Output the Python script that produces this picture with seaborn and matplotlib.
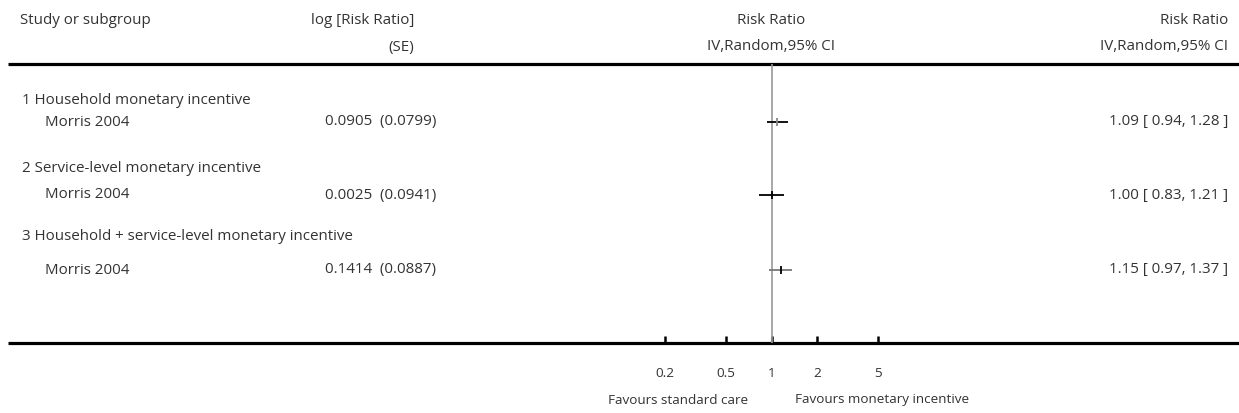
import numpy as np
import pandas as pd
import matplotlib
matplotlib.use("Agg")
import matplotlib.pyplot as plt
import seaborn as sns

# data
subgroups = ["1 Household monetary incentive",
             "2 Service-level monetary incentive",
             "3 Household + service-level monetary incentive"]
studies = ["Morris 2004", "Morris 2004", "Morris 2004"]
log_rr = ["0.0905", "0.0025", "0.1414"]
se = ["0.0799", "0.0941", "0.0887"]
rr = [1.09, 1.00, 1.15]
ci_low = [0.94, 0.83, 0.97]
ci_high = [1.28, 1.21, 1.37]
ticks = [0.2, 0.5, 1, 2, 5]
tick_labels = ["0.2", "0.5", "1", "2", "5"]

W, H = 1239, 413
sns.set_style("white")
plt.rcParams['font.family'] = ['Open Sans', 'DejaVu Sans']
FS = 10.9
FS_SMALL = 9.7
TXT = "#333333"

fig = plt.figure(figsize=(W / 100, H / 100), dpi=100)

# overlay axes in pixel coordinates for the table text and rules
bg = fig.add_axes([0, 0, 1, 1])
bg.set_xlim(0, W)
bg.set_ylim(H, 0)
bg.axis("off")

top_rule, bottom_rule = 64, 343
bg.plot([8, W], [top_rule, top_rule], color="black", lw=2.3, solid_capstyle="butt")
bg.plot([8, W], [bottom_rule, bottom_rule], color="black", lw=2.3, solid_capstyle="butt")

# header
bg.text(20, 20, "Study or subgroup", fontsize=FS, color=TXT, va="center", ha="left")
bg.text(414, 20, "log [Risk Ratio]", fontsize=FS, color=TXT, va="center", ha="right")
bg.text(414, 47, "(SE)", fontsize=FS, color=TXT, va="center", ha="right")
bg.text(771, 20, "Risk Ratio", fontsize=FS, color=TXT, va="center", ha="center")
bg.text(771, 47, "IV,Random,95% CI", fontsize=FS, color=TXT, va="center", ha="center")
bg.text(1228, 20, "Risk Ratio", fontsize=FS, color=TXT, va="center", ha="right")
bg.text(1228, 47, "IV,Random,95% CI", fontsize=FS, color=TXT, va="center", ha="right")

header_y = [100, 169, 237]
study_y = [122, 195, 270]

for i in range(3):
    bg.text(22, header_y[i], subgroups[i], fontsize=FS, color=TXT, va="center", ha="left")
    bg.text(45, study_y[i], studies[i], fontsize=FS, color=TXT, va="center", ha="left")
    bg.text(325, study_y[i], f"{log_rr[i]}  ({se[i]})", fontsize=FS,
            color=TXT, va="center", ha="left")
    ci_txt = f"{rr[i]:.2f} [ {ci_low[i]:.2f}, {ci_high[i]:.2f} ]"
    bg.text(1228, study_y[i], ci_txt, fontsize=FS, color=TXT, va="center", ha="right")

bg.text(748, 400, "Favours standard care", fontsize=FS_SMALL, color=TXT, va="center", ha="right")
bg.text(795, 400, "Favours monetary incentive", fontsize=FS_SMALL, color=TXT, va="center", ha="left")

# forest axes: log scale centred on 1, about 152 px per decade
x0, x1 = 619, 924
ax = fig.add_axes([x0 / W, 1 - bottom_rule / H, (x1 - x0) / W, (bottom_rule - top_rule) / H])
ax.patch.set_alpha(0)
ax.set_xscale("log")
ax.set_xlim(0.1, 10)
ax.set_ylim(bottom_rule, top_rule)
for s in ax.spines.values():
    s.set_visible(False)

ax.axvline(1, color="#999999", lw=1.2, zorder=1)

df = pd.DataFrame({"rr": rr, "lo": ci_low, "hi": ci_high, "y": study_y})
line_cols = ["black", "black", "#777777"]
mark_cols = ["#888888", "black", "black"]
for i, row in df.iterrows():
    ax.hlines(row["y"], row["lo"], row["hi"], color=line_cols[i], lw=1.3, zorder=2)
sns.scatterplot(data=df, x="rr", y="y", marker="|", s=30, linewidth=1.3,
                hue=df.index.astype(str), palette=mark_cols, legend=False, ax=ax, zorder=3)
ax.set_xlabel("")
ax.set_ylabel("")

ax.set_yticks([])
ax.set_xticks(ticks)
ax.set_xticklabels(tick_labels)
ax.minorticks_off()
ax.tick_params(axis="x", direction="in", length=5, width=1.8, color="black",
               pad=17, labelsize=FS_SMALL, labelcolor=TXT, bottom=True)

fig.savefig("out.png", dpi=100)
